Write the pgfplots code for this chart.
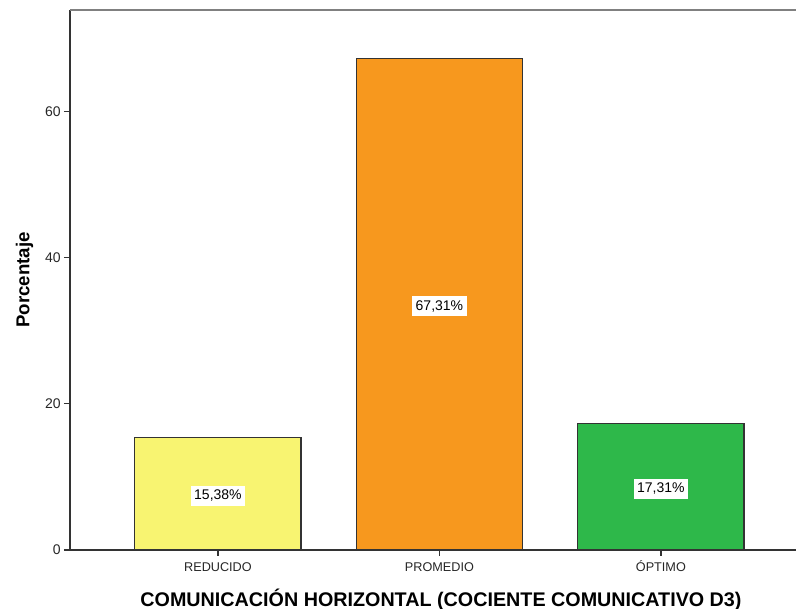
\documentclass[border=0pt]{standalone}
\usepackage{fontspec}
\setmainfont{Liberation Sans}
\usepackage{pgfplots}
\usepackage{pgfplotstable}
\pgfplotsset{compat=1.18}

\definecolor{barYellow}{HTML}{F8F471}
\definecolor{barOrange}{HTML}{F7981E}
\definecolor{barGreen}{HTML}{2EB84A}
\definecolor{edgeGray}{HTML}{333333}

% Percentage of cases per level
\pgfplotstableread{
x y
0 15.38
1 67.31
2 17.31
}\datatable

\begin{document}
\begin{tikzpicture}
\begin{axis}[
  scale only axis,
  width=544.5pt, height=405pt,
  xmin=-0.668, xmax=2.61,
  ymin=0, ymax=73.9,
  axis x line*=bottom, axis y line*=left,
  axis line style={draw=edgeGray, line width=1pt},
  xtick={0,1,2},
  xticklabels={REDUCIDO,PROMEDIO,ÓPTIMO},
  ytick={0,20,40,60},
  tick align=outside,
  major tick length=4.5pt,
  tick style={draw=edgeGray, line width=0.9pt},
  /pgf/number format/assume math mode=true,
  yticklabel style={font=\fontsize{10.5pt}{12pt}\selectfont, text=black!85, xshift=1pt},
  xticklabel style={font=\fontsize{9.5pt}{11pt}\selectfont, text=black!85,
    text height=7pt, text depth=1pt, yshift=-1pt},
  xlabel={COMUNICACIÓN HORIZONTAL (COCIENTE COMUNICATIVO D3)},
  ylabel={Porcentaje},
  xlabel style={font=\bfseries\fontsize{14.8pt}{17pt}\selectfont, yshift=-5pt, xshift=6pt},
  ylabel style={font=\bfseries\fontsize{14pt}{16pt}\selectfont, yshift=2pt},
  clip=false,
]
% bars, one colour per category
\addplot[ybar, bar width=0.75, bar shift=0pt, fill=barYellow, draw=edgeGray, line width=0.9pt,
  x filter/.expression={x==0 ? x : nan}] table[x=x, y=y] {\datatable};
\addplot[ybar, bar width=0.75, bar shift=0pt, fill=barOrange, draw=edgeGray, line width=0.9pt,
  x filter/.expression={x==1 ? x : nan}] table[x=x, y=y] {\datatable};
\addplot[ybar, bar width=0.75, bar shift=0pt, fill=barGreen, draw=edgeGray, line width=0.9pt,
  x filter/.expression={x==2 ? x : nan}] table[x=x, y=y] {\datatable};
% value labels at half the bar height
\addplot[draw=none, mark=none,
  point meta={\thisrow{y}},
  nodes near coords={\pgfmathprintnumber[fixed, fixed zerofill, precision=2, use comma, assume math mode=true]{\pgfplotspointmeta}\%},
  every node near coord/.append style={anchor=center, fill=white, inner xsep=2.5pt, inner ysep=3pt,
    yshift=-1.5pt, font=\fontsize{10.5pt}{12pt}\selectfont, text=black}]
  table[x=x, y expr={\thisrow{y}/2}] {\datatable};
% top frame line
\draw[draw=black!50, line width=1.5pt] (rel axis cs:0,1) -- (rel axis cs:1,1);
\end{axis}
\pgfresetboundingbox
\path ([xshift=-52.5pt,yshift=-44.25pt]current axis.south west) rectangle ([yshift=7.5pt]current axis.north east);
\end{tikzpicture}
\end{document}
